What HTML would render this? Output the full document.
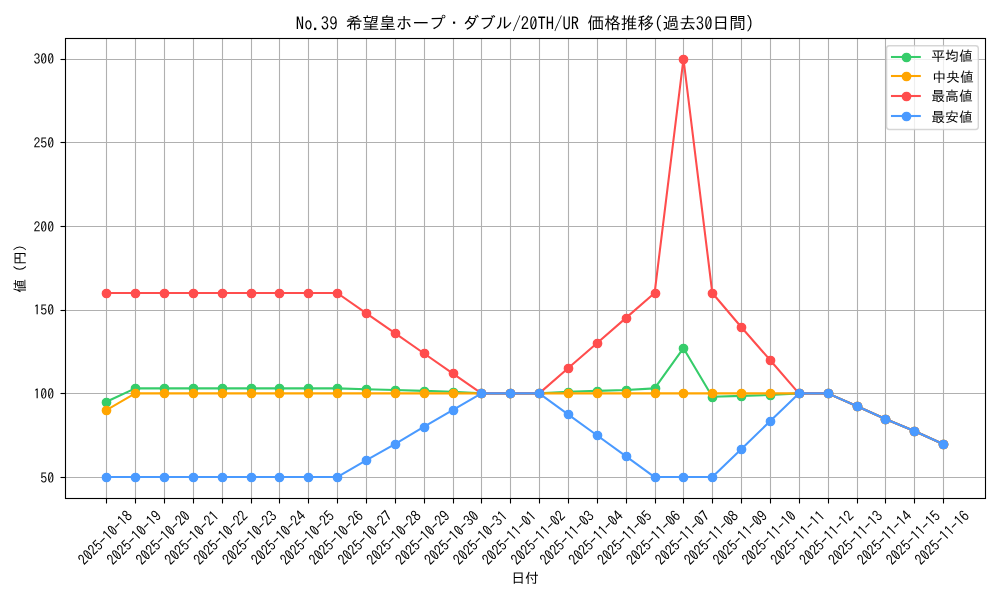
<!DOCTYPE html>
<html><head><meta charset="utf-8"><title>No.39 希望皇ホープ・ダブル/20TH/UR 価格推移</title>
<style>html,body{margin:0;padding:0;background:#fff;width:1000px;height:600px;overflow:hidden}svg{display:block}svg{will-change:transform}</style>
</head><body>
<svg width="1000" height="600" viewBox="0 0 1000 600">
<rect x="0" y="0" width="1000" height="600" fill="#ffffff"/>
<g stroke="#b0b0b0" stroke-width="1.111" fill="none">
<line x1="106.50" y1="38.50" x2="106.50" y2="498.50"/>
<line x1="135.50" y1="38.50" x2="135.50" y2="498.50"/>
<line x1="164.50" y1="38.50" x2="164.50" y2="498.50"/>
<line x1="193.50" y1="38.50" x2="193.50" y2="498.50"/>
<line x1="222.50" y1="38.50" x2="222.50" y2="498.50"/>
<line x1="251.50" y1="38.50" x2="251.50" y2="498.50"/>
<line x1="279.50" y1="38.50" x2="279.50" y2="498.50"/>
<line x1="308.50" y1="38.50" x2="308.50" y2="498.50"/>
<line x1="337.50" y1="38.50" x2="337.50" y2="498.50"/>
<line x1="366.50" y1="38.50" x2="366.50" y2="498.50"/>
<line x1="395.50" y1="38.50" x2="395.50" y2="498.50"/>
<line x1="424.50" y1="38.50" x2="424.50" y2="498.50"/>
<line x1="453.50" y1="38.50" x2="453.50" y2="498.50"/>
<line x1="481.50" y1="38.50" x2="481.50" y2="498.50"/>
<line x1="510.50" y1="38.50" x2="510.50" y2="498.50"/>
<line x1="539.50" y1="38.50" x2="539.50" y2="498.50"/>
<line x1="568.50" y1="38.50" x2="568.50" y2="498.50"/>
<line x1="597.50" y1="38.50" x2="597.50" y2="498.50"/>
<line x1="626.50" y1="38.50" x2="626.50" y2="498.50"/>
<line x1="655.50" y1="38.50" x2="655.50" y2="498.50"/>
<line x1="683.50" y1="38.50" x2="683.50" y2="498.50"/>
<line x1="712.50" y1="38.50" x2="712.50" y2="498.50"/>
<line x1="741.50" y1="38.50" x2="741.50" y2="498.50"/>
<line x1="770.50" y1="38.50" x2="770.50" y2="498.50"/>
<line x1="799.50" y1="38.50" x2="799.50" y2="498.50"/>
<line x1="828.50" y1="38.50" x2="828.50" y2="498.50"/>
<line x1="857.50" y1="38.50" x2="857.50" y2="498.50"/>
<line x1="885.50" y1="38.50" x2="885.50" y2="498.50"/>
<line x1="914.50" y1="38.50" x2="914.50" y2="498.50"/>
<line x1="943.50" y1="38.50" x2="943.50" y2="498.50"/>
<line x1="65.50" y1="477.50" x2="985.50" y2="477.50"/>
<line x1="65.50" y1="393.50" x2="985.50" y2="393.50"/>
<line x1="65.50" y1="310.50" x2="985.50" y2="310.50"/>
<line x1="65.50" y1="226.50" x2="985.50" y2="226.50"/>
<line x1="65.50" y1="142.50" x2="985.50" y2="142.50"/>
<line x1="65.50" y1="59.50" x2="985.50" y2="59.50"/>
</g>
<defs><clipPath id="ax"><rect x="64.53" y="37.89" width="920.47" height="460.07"/></clipPath></defs>
<g clip-path="url(#ax)">
<polyline points="106.37,401.76 135.22,388.38 164.08,388.38 192.93,388.38 221.79,388.38 250.64,388.38 279.50,388.38 308.35,388.38 337.21,388.38 366.06,389.22 394.92,390.05 423.77,390.89 452.63,391.73 481.48,393.40 510.34,393.40 539.19,393.40 568.05,391.73 596.90,390.89 625.76,390.05 654.61,388.38 683.47,348.23 712.32,396.75 741.18,395.91 770.03,395.07 798.89,393.40 827.74,393.40 856.60,405.95 885.45,419.00 914.31,431.04 943.16,444.09" fill="none" stroke="#36cc6a" stroke-width="2.083" stroke-linejoin="round" stroke-linecap="square"/>
<g fill="#36cc6a" stroke="#36cc6a" stroke-width="1.389">
<circle cx="106.50" cy="402.50" r="4.167"/>
<circle cx="135.50" cy="388.50" r="4.167"/>
<circle cx="164.50" cy="388.50" r="4.167"/>
<circle cx="193.50" cy="388.50" r="4.167"/>
<circle cx="222.50" cy="388.50" r="4.167"/>
<circle cx="251.50" cy="388.50" r="4.167"/>
<circle cx="279.50" cy="388.50" r="4.167"/>
<circle cx="308.50" cy="388.50" r="4.167"/>
<circle cx="337.50" cy="388.50" r="4.167"/>
<circle cx="366.50" cy="389.50" r="4.167"/>
<circle cx="395.50" cy="390.50" r="4.167"/>
<circle cx="424.50" cy="391.50" r="4.167"/>
<circle cx="453.50" cy="392.50" r="4.167"/>
<circle cx="481.50" cy="393.50" r="4.167"/>
<circle cx="510.50" cy="393.50" r="4.167"/>
<circle cx="539.50" cy="393.50" r="4.167"/>
<circle cx="568.50" cy="392.50" r="4.167"/>
<circle cx="597.50" cy="391.50" r="4.167"/>
<circle cx="626.50" cy="390.50" r="4.167"/>
<circle cx="655.50" cy="388.50" r="4.167"/>
<circle cx="683.50" cy="348.50" r="4.167"/>
<circle cx="712.50" cy="397.50" r="4.167"/>
<circle cx="741.50" cy="396.50" r="4.167"/>
<circle cx="770.50" cy="395.50" r="4.167"/>
<circle cx="799.50" cy="393.50" r="4.167"/>
<circle cx="828.50" cy="393.50" r="4.167"/>
<circle cx="857.50" cy="406.50" r="4.167"/>
<circle cx="885.50" cy="419.50" r="4.167"/>
<circle cx="914.50" cy="431.50" r="4.167"/>
<circle cx="943.50" cy="444.50" r="4.167"/>
</g>
<polyline points="106.37,410.13 135.22,393.40 164.08,393.40 192.93,393.40 221.79,393.40 250.64,393.40 279.50,393.40 308.35,393.40 337.21,393.40 366.06,393.40 394.92,393.40 423.77,393.40 452.63,393.40 481.48,393.40 510.34,393.40 539.19,393.40 568.05,393.40 596.90,393.40 625.76,393.40 654.61,393.40 683.47,393.40 712.32,393.40 741.18,393.40 770.03,393.40 798.89,393.40 827.74,393.40 856.60,405.95 885.45,419.00 914.31,431.04 943.16,444.09" fill="none" stroke="#ffa500" stroke-width="2.083" stroke-linejoin="round" stroke-linecap="square"/>
<g fill="#ffa500" stroke="#ffa500" stroke-width="1.389">
<circle cx="106.50" cy="410.50" r="4.167"/>
<circle cx="135.50" cy="393.50" r="4.167"/>
<circle cx="164.50" cy="393.50" r="4.167"/>
<circle cx="193.50" cy="393.50" r="4.167"/>
<circle cx="222.50" cy="393.50" r="4.167"/>
<circle cx="251.50" cy="393.50" r="4.167"/>
<circle cx="279.50" cy="393.50" r="4.167"/>
<circle cx="308.50" cy="393.50" r="4.167"/>
<circle cx="337.50" cy="393.50" r="4.167"/>
<circle cx="366.50" cy="393.50" r="4.167"/>
<circle cx="395.50" cy="393.50" r="4.167"/>
<circle cx="424.50" cy="393.50" r="4.167"/>
<circle cx="453.50" cy="393.50" r="4.167"/>
<circle cx="481.50" cy="393.50" r="4.167"/>
<circle cx="510.50" cy="393.50" r="4.167"/>
<circle cx="539.50" cy="393.50" r="4.167"/>
<circle cx="568.50" cy="393.50" r="4.167"/>
<circle cx="597.50" cy="393.50" r="4.167"/>
<circle cx="626.50" cy="393.50" r="4.167"/>
<circle cx="655.50" cy="393.50" r="4.167"/>
<circle cx="683.50" cy="393.50" r="4.167"/>
<circle cx="712.50" cy="393.50" r="4.167"/>
<circle cx="741.50" cy="393.50" r="4.167"/>
<circle cx="770.50" cy="393.50" r="4.167"/>
<circle cx="799.50" cy="393.50" r="4.167"/>
<circle cx="828.50" cy="393.50" r="4.167"/>
<circle cx="857.50" cy="406.50" r="4.167"/>
<circle cx="885.50" cy="419.50" r="4.167"/>
<circle cx="914.50" cy="431.50" r="4.167"/>
<circle cx="943.50" cy="444.50" r="4.167"/>
</g>
<polyline points="106.37,293.02 135.22,293.02 164.08,293.02 192.93,293.02 221.79,293.02 250.64,293.02 279.50,293.02 308.35,293.02 337.21,293.02 366.06,313.10 394.92,333.17 423.77,353.25 452.63,373.32 481.48,393.40 510.34,393.40 539.19,393.40 568.05,368.30 596.90,343.21 625.76,318.12 654.61,293.02 683.47,58.80 712.32,293.02 741.18,326.98 770.03,359.94 798.89,393.40 827.74,393.40 856.60,405.95 885.45,419.00 914.31,431.04 943.16,444.09" fill="none" stroke="#ff4d4d" stroke-width="2.083" stroke-linejoin="round" stroke-linecap="square"/>
<g fill="#ff4d4d" stroke="#ff4d4d" stroke-width="1.389">
<circle cx="106.50" cy="293.50" r="4.167"/>
<circle cx="135.50" cy="293.50" r="4.167"/>
<circle cx="164.50" cy="293.50" r="4.167"/>
<circle cx="193.50" cy="293.50" r="4.167"/>
<circle cx="222.50" cy="293.50" r="4.167"/>
<circle cx="251.50" cy="293.50" r="4.167"/>
<circle cx="279.50" cy="293.50" r="4.167"/>
<circle cx="308.50" cy="293.50" r="4.167"/>
<circle cx="337.50" cy="293.50" r="4.167"/>
<circle cx="366.50" cy="313.50" r="4.167"/>
<circle cx="395.50" cy="333.50" r="4.167"/>
<circle cx="424.50" cy="353.50" r="4.167"/>
<circle cx="453.50" cy="373.50" r="4.167"/>
<circle cx="481.50" cy="393.50" r="4.167"/>
<circle cx="510.50" cy="393.50" r="4.167"/>
<circle cx="539.50" cy="393.50" r="4.167"/>
<circle cx="568.50" cy="368.50" r="4.167"/>
<circle cx="597.50" cy="343.50" r="4.167"/>
<circle cx="626.50" cy="318.50" r="4.167"/>
<circle cx="655.50" cy="293.50" r="4.167"/>
<circle cx="683.50" cy="59.50" r="4.167"/>
<circle cx="712.50" cy="293.50" r="4.167"/>
<circle cx="741.50" cy="327.50" r="4.167"/>
<circle cx="770.50" cy="360.50" r="4.167"/>
<circle cx="799.50" cy="393.50" r="4.167"/>
<circle cx="828.50" cy="393.50" r="4.167"/>
<circle cx="857.50" cy="406.50" r="4.167"/>
<circle cx="885.50" cy="419.50" r="4.167"/>
<circle cx="914.50" cy="431.50" r="4.167"/>
<circle cx="943.50" cy="444.50" r="4.167"/>
</g>
<polyline points="106.37,477.05 135.22,477.05 164.08,477.05 192.93,477.05 221.79,477.05 250.64,477.05 279.50,477.05 308.35,477.05 337.21,477.05 366.06,460.32 394.92,444.09 423.77,426.86 452.63,410.13 481.48,393.40 510.34,393.40 539.19,393.40 568.05,414.31 596.90,435.22 625.76,456.14 654.61,477.05 683.47,477.05 712.32,477.05 741.18,449.16 770.03,421.29 798.89,393.40 827.74,393.40 856.60,405.95 885.45,419.00 914.31,431.04 943.16,444.09" fill="none" stroke="#4a9aff" stroke-width="2.083" stroke-linejoin="round" stroke-linecap="square"/>
<g fill="#4a9aff" stroke="#4a9aff" stroke-width="1.389">
<circle cx="106.50" cy="477.50" r="4.167"/>
<circle cx="135.50" cy="477.50" r="4.167"/>
<circle cx="164.50" cy="477.50" r="4.167"/>
<circle cx="193.50" cy="477.50" r="4.167"/>
<circle cx="222.50" cy="477.50" r="4.167"/>
<circle cx="251.50" cy="477.50" r="4.167"/>
<circle cx="279.50" cy="477.50" r="4.167"/>
<circle cx="308.50" cy="477.50" r="4.167"/>
<circle cx="337.50" cy="477.50" r="4.167"/>
<circle cx="366.50" cy="460.50" r="4.167"/>
<circle cx="395.50" cy="444.50" r="4.167"/>
<circle cx="424.50" cy="427.50" r="4.167"/>
<circle cx="453.50" cy="410.50" r="4.167"/>
<circle cx="481.50" cy="393.50" r="4.167"/>
<circle cx="510.50" cy="393.50" r="4.167"/>
<circle cx="539.50" cy="393.50" r="4.167"/>
<circle cx="568.50" cy="414.50" r="4.167"/>
<circle cx="597.50" cy="435.50" r="4.167"/>
<circle cx="626.50" cy="456.50" r="4.167"/>
<circle cx="655.50" cy="477.50" r="4.167"/>
<circle cx="683.50" cy="477.50" r="4.167"/>
<circle cx="712.50" cy="477.50" r="4.167"/>
<circle cx="741.50" cy="449.50" r="4.167"/>
<circle cx="770.50" cy="421.50" r="4.167"/>
<circle cx="799.50" cy="393.50" r="4.167"/>
<circle cx="828.50" cy="393.50" r="4.167"/>
<circle cx="857.50" cy="406.50" r="4.167"/>
<circle cx="885.50" cy="419.50" r="4.167"/>
<circle cx="914.50" cy="431.50" r="4.167"/>
<circle cx="943.50" cy="444.50" r="4.167"/>
</g>
</g>
<g stroke="#000000" stroke-width="1.111" fill="none" stroke-linecap="square">
<rect x="65.50" y="38.50" width="920.00" height="460.00" stroke-linejoin="miter"/>
</g>
<g stroke="#000000" stroke-width="1.111" fill="none">
<line x1="106.50" y1="498.50" x2="106.50" y2="503.50"/>
<line x1="135.50" y1="498.50" x2="135.50" y2="503.50"/>
<line x1="164.50" y1="498.50" x2="164.50" y2="503.50"/>
<line x1="193.50" y1="498.50" x2="193.50" y2="503.50"/>
<line x1="222.50" y1="498.50" x2="222.50" y2="503.50"/>
<line x1="251.50" y1="498.50" x2="251.50" y2="503.50"/>
<line x1="279.50" y1="498.50" x2="279.50" y2="503.50"/>
<line x1="308.50" y1="498.50" x2="308.50" y2="503.50"/>
<line x1="337.50" y1="498.50" x2="337.50" y2="503.50"/>
<line x1="366.50" y1="498.50" x2="366.50" y2="503.50"/>
<line x1="395.50" y1="498.50" x2="395.50" y2="503.50"/>
<line x1="424.50" y1="498.50" x2="424.50" y2="503.50"/>
<line x1="453.50" y1="498.50" x2="453.50" y2="503.50"/>
<line x1="481.50" y1="498.50" x2="481.50" y2="503.50"/>
<line x1="510.50" y1="498.50" x2="510.50" y2="503.50"/>
<line x1="539.50" y1="498.50" x2="539.50" y2="503.50"/>
<line x1="568.50" y1="498.50" x2="568.50" y2="503.50"/>
<line x1="597.50" y1="498.50" x2="597.50" y2="503.50"/>
<line x1="626.50" y1="498.50" x2="626.50" y2="503.50"/>
<line x1="655.50" y1="498.50" x2="655.50" y2="503.50"/>
<line x1="683.50" y1="498.50" x2="683.50" y2="503.50"/>
<line x1="712.50" y1="498.50" x2="712.50" y2="503.50"/>
<line x1="741.50" y1="498.50" x2="741.50" y2="503.50"/>
<line x1="770.50" y1="498.50" x2="770.50" y2="503.50"/>
<line x1="799.50" y1="498.50" x2="799.50" y2="503.50"/>
<line x1="828.50" y1="498.50" x2="828.50" y2="503.50"/>
<line x1="857.50" y1="498.50" x2="857.50" y2="503.50"/>
<line x1="885.50" y1="498.50" x2="885.50" y2="503.50"/>
<line x1="914.50" y1="498.50" x2="914.50" y2="503.50"/>
<line x1="943.50" y1="498.50" x2="943.50" y2="503.50"/>
<line x1="60.50" y1="477.50" x2="65.50" y2="477.50"/>
<line x1="60.50" y1="393.50" x2="65.50" y2="393.50"/>
<line x1="60.50" y1="310.50" x2="65.50" y2="310.50"/>
<line x1="60.50" y1="226.50" x2="65.50" y2="226.50"/>
<line x1="60.50" y1="142.50" x2="65.50" y2="142.50"/>
<line x1="60.50" y1="59.50" x2="65.50" y2="59.50"/>
</g>
<g font-family="IPAGothic, 'Liberation Sans', sans-serif" fill="#000000">
<text x="54.23" y="483.00" font-size="13.889" text-anchor="end">50</text>
<text x="54.23" y="399.00" font-size="13.889" text-anchor="end">100</text>
<text x="54.23" y="315.00" font-size="13.889" text-anchor="end">150</text>
<text x="54.23" y="232.00" font-size="13.889" text-anchor="end">200</text>
<text x="54.23" y="148.00" font-size="13.889" text-anchor="end">250</text>
<text x="54.23" y="64.00" font-size="13.889" text-anchor="end">300</text>
<text font-size="13.889" transform="translate(84.47 566.10) rotate(-45) scale(1,1.06)">2025-10-18</text>
<text font-size="13.889" transform="translate(113.32 566.10) rotate(-45) scale(1,1.06)">2025-10-19</text>
<text font-size="13.889" transform="translate(142.18 566.10) rotate(-45) scale(1,1.06)">2025-10-20</text>
<text font-size="13.889" transform="translate(171.03 566.10) rotate(-45) scale(1,1.06)">2025-10-21</text>
<text font-size="13.889" transform="translate(199.89 566.10) rotate(-45) scale(1,1.06)">2025-10-22</text>
<text font-size="13.889" transform="translate(228.74 566.10) rotate(-45) scale(1,1.06)">2025-10-23</text>
<text font-size="13.889" transform="translate(257.60 566.10) rotate(-45) scale(1,1.06)">2025-10-24</text>
<text font-size="13.889" transform="translate(286.45 566.10) rotate(-45) scale(1,1.06)">2025-10-25</text>
<text font-size="13.889" transform="translate(315.31 566.10) rotate(-45) scale(1,1.06)">2025-10-26</text>
<text font-size="13.889" transform="translate(344.16 566.10) rotate(-45) scale(1,1.06)">2025-10-27</text>
<text font-size="13.889" transform="translate(373.02 566.10) rotate(-45) scale(1,1.06)">2025-10-28</text>
<text font-size="13.889" transform="translate(401.87 566.10) rotate(-45) scale(1,1.06)">2025-10-29</text>
<text font-size="13.889" transform="translate(430.73 566.10) rotate(-45) scale(1,1.06)">2025-10-30</text>
<text font-size="13.889" transform="translate(459.58 566.10) rotate(-45) scale(1,1.06)">2025-10-31</text>
<text font-size="13.889" transform="translate(488.44 566.10) rotate(-45) scale(1,1.06)">2025-11-01</text>
<text font-size="13.889" transform="translate(517.29 566.10) rotate(-45) scale(1,1.06)">2025-11-02</text>
<text font-size="13.889" transform="translate(546.15 566.10) rotate(-45) scale(1,1.06)">2025-11-03</text>
<text font-size="13.889" transform="translate(575.00 566.10) rotate(-45) scale(1,1.06)">2025-11-04</text>
<text font-size="13.889" transform="translate(603.86 566.10) rotate(-45) scale(1,1.06)">2025-11-05</text>
<text font-size="13.889" transform="translate(632.71 566.10) rotate(-45) scale(1,1.06)">2025-11-06</text>
<text font-size="13.889" transform="translate(661.57 566.10) rotate(-45) scale(1,1.06)">2025-11-07</text>
<text font-size="13.889" transform="translate(690.42 566.10) rotate(-45) scale(1,1.06)">2025-11-08</text>
<text font-size="13.889" transform="translate(719.28 566.10) rotate(-45) scale(1,1.06)">2025-11-09</text>
<text font-size="13.889" transform="translate(748.13 566.10) rotate(-45) scale(1,1.06)">2025-11-10</text>
<text font-size="13.889" transform="translate(776.99 566.10) rotate(-45) scale(1,1.06)">2025-11-11</text>
<text font-size="13.889" transform="translate(805.84 566.10) rotate(-45) scale(1,1.06)">2025-11-12</text>
<text font-size="13.889" transform="translate(834.70 566.10) rotate(-45) scale(1,1.06)">2025-11-13</text>
<text font-size="13.889" transform="translate(863.55 566.10) rotate(-45) scale(1,1.06)">2025-11-14</text>
<text font-size="13.889" transform="translate(892.41 566.10) rotate(-45) scale(1,1.06)">2025-11-15</text>
<text font-size="13.889" transform="translate(921.26 566.10) rotate(-45) scale(1,1.06)">2025-11-16</text>
<g font-size="16.667">
<text x="295.83" y="29.00" transform="translate(0 16) scale(1 1.08) translate(0 -16)">No.39&#160;</text>
<text x="345.83" y="29.00">希望皇ホープ・ダブル</text>
<text x="512.50" y="29.00" transform="translate(0 16) scale(1 1.08) translate(0 -16)">/20TH/UR&#160;</text>
<text x="587.50" y="29.00">価格推移</text>
<text x="654.17" y="29.00" transform="translate(0 16) scale(1 1.08) translate(0 -16)">(</text>
<text x="662.50" y="29.00">過去</text>
<text x="695.83" y="29.00" transform="translate(0 16) scale(1 1.08) translate(0 -16)">30</text>
<text x="712.50" y="29.00">日間</text>
<text x="745.83" y="29.00" transform="translate(0 16) scale(1 1.08) translate(0 -16)">)</text>
</g>
<text x="525.00" y="583.00" font-size="13.889" text-anchor="middle">日付</text>
<text font-size="13.889" text-anchor="middle" transform="translate(24.80 268.50) rotate(-90)">値 (円)</text>
</g>
<path d="M 889.38 45.70 L 975.52 45.70 Q 978.30 45.70 978.30 48.48 L 978.30 126.72 Q 978.30 129.50 975.52 129.50 L 889.38 129.50 Q 886.60 129.50 886.60 126.72 L 886.60 48.48 Q 886.60 45.70 889.38 45.70 Z" fill="#ffffff" fill-opacity="0.8" stroke="#cccccc" stroke-opacity="0.8" stroke-width="1.389"/>
<line x1="892.00" y1="57.00" x2="919.78" y2="57.00" stroke="#36cc6a" stroke-width="2.083" stroke-linecap="square"/>
<circle cx="906.50" cy="57.50" r="4.167" fill="#36cc6a" stroke="#36cc6a" stroke-width="1.389"/>
<text x="931.20" y="61.10" font-family="IPAGothic, 'Liberation Sans', sans-serif" font-size="13.889">平均値</text>
<line x1="892.00" y1="76.00" x2="919.78" y2="76.00" stroke="#ffa500" stroke-width="2.083" stroke-linecap="square"/>
<circle cx="906.50" cy="76.50" r="4.167" fill="#ffa500" stroke="#ffa500" stroke-width="1.389"/>
<text x="932.20" y="81.65" font-family="IPAGothic, 'Liberation Sans', sans-serif" font-size="13.889">中央値</text>
<line x1="892.00" y1="96.00" x2="919.78" y2="96.00" stroke="#ff4d4d" stroke-width="2.083" stroke-linecap="square"/>
<circle cx="906.50" cy="96.50" r="4.167" fill="#ff4d4d" stroke="#ff4d4d" stroke-width="1.389"/>
<text x="931.20" y="101.20" font-family="IPAGothic, 'Liberation Sans', sans-serif" font-size="13.889">最高値</text>
<line x1="892.00" y1="116.00" x2="919.78" y2="116.00" stroke="#4a9aff" stroke-width="2.083" stroke-linecap="square"/>
<circle cx="906.50" cy="116.50" r="4.167" fill="#4a9aff" stroke="#4a9aff" stroke-width="1.389"/>
<text x="931.20" y="121.75" font-family="IPAGothic, 'Liberation Sans', sans-serif" font-size="13.889">最安値</text>
</svg>
</body></html>
